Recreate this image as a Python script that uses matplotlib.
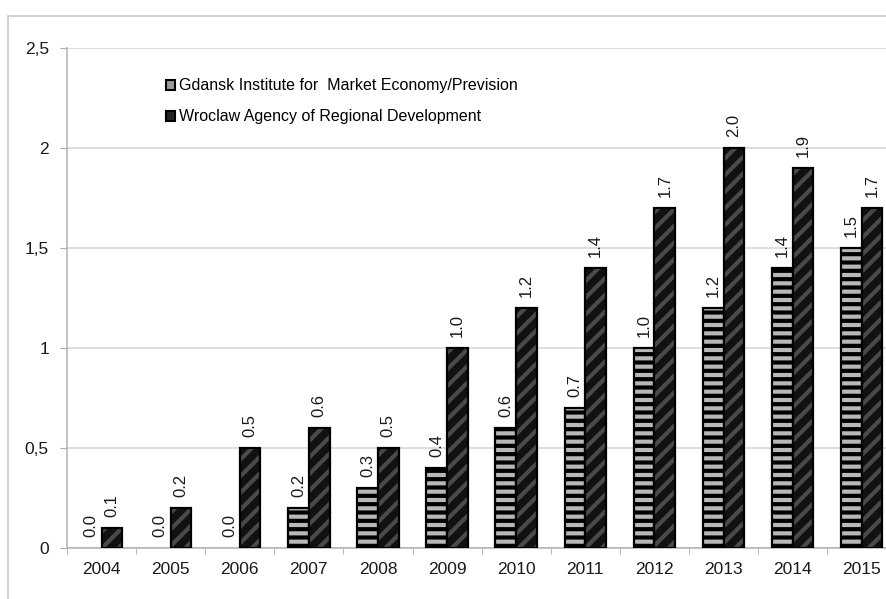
import numpy as np
import matplotlib.pyplot as plt
from matplotlib.patches import Patch, Rectangle

years = ['2004', '2005', '2006', '2007', '2008', '2009',
         '2010', '2011', '2012', '2013', '2014', '2015']
gdansk = [0.0, 0.0, 0.0, 0.2, 0.3, 0.4, 0.6, 0.7, 1.0, 1.2, 1.4, 1.5]
wroclaw = [0.1, 0.2, 0.5, 0.6, 0.5, 1.0, 1.2, 1.4, 1.7, 2.0, 1.9, 1.7]
y_ticks = [0, 0.5, 1, 1.5, 2, 2.5]
y_labels = ['0', '0,5', '1', '1,5', '2', '2,5']
names = ['Gdansk Institute for  Market Economy/Prevision',
         'Wroclaw Agency of Regional Development']

plt.rcParams['font.family'] = ['Liberation Sans', 'DejaVu Sans']
plt.rcParams['hatch.linewidth'] = 3.0

fig = plt.figure(figsize=(8.86, 5.99), dpi=100)
ax = fig.add_axes([0.0756, 0.0851, 0.936, 0.8347])

# thin grey frame round the whole chart
fig.patches.append(Rectangle((8 / 886, -0.05), 1.2, 1 - 16 / 599 + 0.05,
                             transform=fig.transFigure, fill=False,
                             edgecolor='#c8c8c8', linewidth=1.2, zorder=0))

x = np.arange(len(years))
w = 0.3

# no outline on empty bars
lw_g = [1.6 if v > 0 else 0 for v in gdansk]
lw_w = [1.6 if v > 0 else 0 for v in wroclaw]

# Gdansk: light grey with black horizontal stripes
ax.bar(x - w / 2, gdansk, w, color='#b8b8b8', edgecolor='black',
       hatch='--', linewidth=lw_g, zorder=3)
# Wroclaw: black with dark grey diagonal stripes, then black outline
ax.bar(x + w / 2, wroclaw, w, color='#111111', edgecolor='#4a4a4a',
       hatch='//', linewidth=0, zorder=3)
ax.bar(x + w / 2, wroclaw, w, fill=False, edgecolor='black',
       linewidth=lw_w, zorder=4)

for xi, v in zip(x - w / 2, gdansk):
    ax.annotate(f'{v:.1f}', (xi, v), xytext=(0, 8), textcoords='offset points',
                rotation=90, ha='center', va='bottom', fontsize=12,
                color='#1a1a1a')
for xi, v in zip(x + w / 2, wroclaw):
    ax.annotate(f'{v:.1f}', (xi, v), xytext=(0, 8), textcoords='offset points',
                rotation=90, ha='center', va='bottom', fontsize=12,
                color='#1a1a1a')

ax.set_xlim(-0.5, len(years) - 0.5)
ax.set_ylim(0, 2.5)
ax.set_yticks(y_ticks)
ax.set_yticklabels(y_labels, fontsize=12.5, color='#1a1a1a')
ax.set_xticks(x)
ax.set_xticklabels(years, fontsize=12.5, color='#1a1a1a')
ax.set_xticks(np.arange(len(years) + 1) - 0.5, minor=True)
ax.tick_params(axis='x', which='major', length=0, pad=10)
ax.tick_params(axis='x', which='minor', length=4, color='#aaaaaa', direction='out')
ax.tick_params(axis='y', length=5, color='#aaaaaa', pad=8)

ax.yaxis.grid(True, color='#d4d4d4', linewidth=1.1, zorder=0)
ax.set_axisbelow(True)
for s in ['top', 'right']:
    ax.spines[s].set_visible(False)
for s in ['left', 'bottom']:
    ax.spines[s].set_color('#b0b0b0')
    ax.spines[s].set_linewidth(1.1)

handles = [Patch(facecolor='#9a9a9a', edgecolor='black', linewidth=1.5),
           Patch(facecolor='#222222', edgecolor='black', linewidth=1.5)]
ax.legend(handles, names, loc='upper left', bbox_to_anchor=(0.112, 0.952),
          frameon=False, fontsize=11.5, handlelength=0.55, handleheight=0.55,
          handletextpad=0.25, labelspacing=1.0, borderaxespad=0)

fig.savefig('out.png', dpi=100)
